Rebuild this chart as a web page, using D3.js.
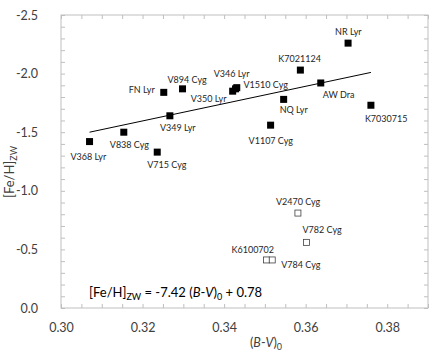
<!DOCTYPE html>
<html>
<head>
<meta charset="utf-8">
<script src="https://cdn.jsdelivr.net/npm/d3@7"></script>
<style>
  body { margin: 0; background: #fff; }
  svg { display: block; font-family: Lato, "Liberation Sans", sans-serif; }
</style>
</head>
<body>
<svg id="chart" width="436" height="356"></svg>
<script>
// stars with a fitted metallicity (filled squares)
const starNames = ['V368 Lyr', 'V838 Cyg', 'V715 Cyg', 'V349 Lyr', 'FN Lyr', 'V894 Cyg',
  'V350 Lyr', 'V346 Lyr', 'V1510 Cyg', 'K7021124', 'NR Lyr', 'AW Dra', 'NQ Lyr',
  'K7030715', 'V1107 Cyg']
const starBV = [0.307, 0.3154, 0.3236, 0.3267, 0.3252, 0.3298, 0.3421, 0.3431, 0.3428,
  0.3587, 0.3704, 0.3637, 0.3546, 0.3760, 0.3514]
const starFeH = [-1.42, -1.50, -1.33, -1.64, -1.84, -1.87, -1.85, -1.88, -1.87,
  -2.03, -2.26, -1.92, -1.78, -1.73, -1.56]

// stars left out of the fit (open squares)
const outNames = ['V2470 Cyg', 'V782 Cyg', 'K6100702', 'V784 Cyg']
const outBV = [0.3581, 0.3602, 0.3504, 0.3518]
const outFeH = [-0.81, -0.56, -0.41, -0.41]

// end points of the regression line
const fitBV = [0.307, 0.376]
const fitFeH = [-1.50, -2.01]

// tick labels
const xTickValues = [0.30, 0.32, 0.34, 0.36, 0.38]
const yTickValues = [0.0, -0.5, -1.0, -1.5, -2.0, -2.5]

// label offsets from the marker (pixels), same order as the names
const starLabelOffsets = [[-19, 18], [-14, 16], [-10, 16], [-10, 15], [-35, 1], [-15, -6],
  [-42, 11], [-23, -11], [8, -1], [-22, -8], [-13, -8], [2, 15], [-4, 14], [-6, 17], [-22, 19]]
const outLabelOffsets = [[-22, -8], [-4, -9], [-35, -7], [9, 8]]

const svg = d3.select('#chart')
const margin = { left: 61, right: 428, top: 15, bottom: 308 }
const frameColor = '#bfbfbf'
const tickTextColor = '#404040'
const labelColor = '#262626'

const xScale = d3.scaleLinear()
  .domain([0.30, 0.39])
  .range([margin.left, margin.right])

const yScale = d3.scaleLinear()
  .domain([0, -2.5])
  .range([margin.bottom, margin.top])

// frame
svg.append('rect')
  .attr('x', margin.left)
  .attr('y', margin.top)
  .attr('width', margin.right - margin.left)
  .attr('height', margin.bottom - margin.top)
  .style('fill', 'none')
  .style('stroke', frameColor)

// minor ticks on all four sides, pointing inside
const xMinor = d3.range(0, 19).map(i => 0.30 + i * 0.005)
const yMinor = d3.range(0, 26).map(i => -i * 0.1)

const tickAxes = [
  [d3.axisBottom(xScale).tickValues(xMinor), `translate(0, ${margin.bottom})`],
  [d3.axisTop(xScale).tickValues(xMinor), `translate(0, ${margin.top})`],
  [d3.axisLeft(yScale).tickValues(yMinor), `translate(${margin.left}, 0)`],
  [d3.axisRight(yScale).tickValues(yMinor), `translate(${margin.right}, 0)`]
]
tickAxes.forEach(([axis, tr]) => {
  const g = svg.append('g')
    .attr('transform', tr)
    .call(axis.tickSize(-4).tickFormat(''))
  g.select('path.domain').remove()
  g.selectAll('.tick line').style('stroke', frameColor)
})

// tick labels
const xLabels = svg.append('g')
  .attr('transform', `translate(0, ${margin.bottom + 12})`)
  .call(d3.axisBottom(xScale).tickValues(xTickValues).tickSize(0).tickFormat(d3.format('.2f')))
xLabels.select('path.domain').remove()
xLabels.selectAll('.tick text')
  .style('font-size', '12.5px')
  .style('font-family', 'Lato, sans-serif')
  .style('fill', tickTextColor)

const yLabels = svg.append('g')
  .attr('transform', `translate(${margin.left - 20}, 0)`)
  .call(d3.axisLeft(yScale).tickValues(yTickValues).tickSize(0).tickFormat(d => d === 0 ? '0.0' : d3.format('.1f')(d).replace('−', '-')))
yLabels.select('path.domain').remove()
yLabels.selectAll('.tick text')
  .style('font-size', '12.5px')
  .style('font-family', 'Lato, sans-serif')
  .style('fill', tickTextColor)

// axis titles
const yTitle = svg.append('text')
  .attr('transform', 'rotate(-90)')
  .attr('x', -172)
  .attr('y', 14)
  .style('text-anchor', 'middle')
  .style('font-size', '13px')
  .style('fill', tickTextColor)
yTitle.append('tspan').text('[Fe/H]')
yTitle.append('tspan').text('ZW').attr('dy', 3).style('font-size', '9px')

const xTitle = svg.append('text')
  .attr('x', 266)
  .attr('y', 347)
  .style('text-anchor', 'middle')
  .style('font-size', '12.5px')
  .style('fill', tickTextColor)
xTitle.append('tspan').text('(')
xTitle.append('tspan').text('B').style('font-style', 'italic')
xTitle.append('tspan').text('-')
xTitle.append('tspan').text('V').style('font-style', 'italic')
xTitle.append('tspan').text(')')
xTitle.append('tspan').text('0').attr('dy', 3).style('font-size', '9px')

// regression line
svg.append('line')
  .attr('x1', xScale(fitBV[0]))
  .attr('y1', yScale(fitFeH[0]))
  .attr('x2', xScale(fitBV[1]))
  .attr('y2', yScale(fitFeH[1]))
  .style('stroke', '#000')
  .style('stroke-width', 1)

// filled squares
const stars = starNames.map((n, i) => ({ name: n, bv: starBV[i], feh: starFeH[i], off: starLabelOffsets[i] }))
const outs = outNames.map((n, i) => ({ name: n, bv: outBV[i], feh: outFeH[i], off: outLabelOffsets[i] }))

svg.append('g')
  .selectAll('rect')
  .data(stars)
  .enter()
  .append('rect')
  .attr('x', d => xScale(d.bv) - 3.5)
  .attr('y', d => yScale(d.feh) - 3.5)
  .attr('width', 7)
  .attr('height', 7)
  .style('fill', '#000')

// open squares
svg.append('g')
  .selectAll('rect')
  .data(outs)
  .enter()
  .append('rect')
  .attr('x', d => xScale(d.bv) - 3)
  .attr('y', d => yScale(d.feh) - 3)
  .attr('width', 6)
  .attr('height', 6)
  .style('fill', '#fff')
  .style('stroke', '#404040')
  .style('stroke-width', 0.8)

// star labels
svg.append('g')
  .selectAll('text')
  .data(stars.concat(outs))
  .enter()
  .append('text')
  .attr('x', d => xScale(d.bv) + d.off[0])
  .attr('y', d => yScale(d.feh) + d.off[1])
  .style('font-size', '9px')
  .style('fill', labelColor)
  .text(d => d.name)

// fit equation
const eq = svg.append('text')
  .attr('x', 89)
  .attr('y', 297)
  .style('font-size', '13px')
  .style('fill', '#000')
eq.append('tspan').text('[Fe/H]')
eq.append('tspan').text('ZW').attr('dy', 3).style('font-size', '9px')
eq.append('tspan').text(' = -7.42 (').attr('dy', -3)
eq.append('tspan').text('B').style('font-style', 'italic')
eq.append('tspan').text('-')
eq.append('tspan').text('V').style('font-style', 'italic')
eq.append('tspan').text(')')
eq.append('tspan').text('0').attr('dy', 3).style('font-size', '9px')
eq.append('tspan').text(' + 0.78').attr('dy', -3)
</script>
</body>
</html>
